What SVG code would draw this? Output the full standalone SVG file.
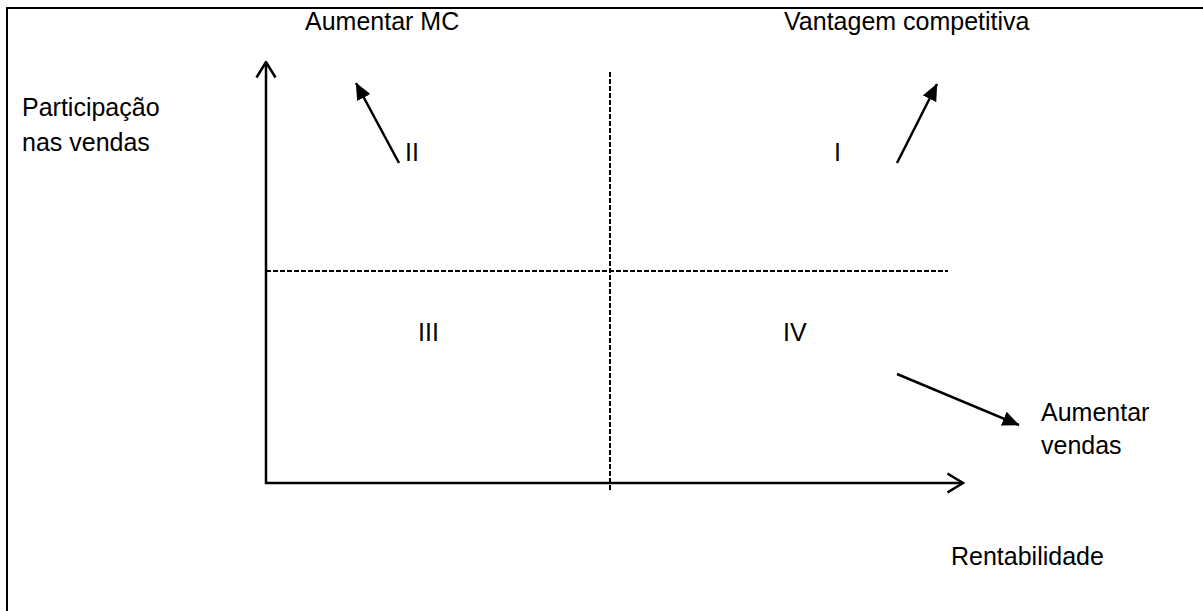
<svg xmlns="http://www.w3.org/2000/svg" width="1203" height="611" viewBox="0 0 1203 611">
<defs>
<style>
text{font-family:"Liberation Sans",Arial,sans-serif;font-size:25px;fill:#000}
.ax{stroke:#000;stroke-width:2.5;fill:none}
.dash{stroke:#000;stroke-width:2;stroke-dasharray:5 2;fill:none}
.arr{stroke:#000;stroke-width:2.5;fill:none}
</style>
<marker id="open" viewBox="0 0 18 22" refX="16.5" refY="11" markerWidth="18" markerHeight="22" markerUnits="userSpaceOnUse" orient="auto">
<path d="M1,1.5 L16.5,11 L1,20.5" fill="none" stroke="#000" stroke-width="2.5"/>
</marker>
<marker id="solid" viewBox="0 0 17 15" refX="16.5" refY="7.5" markerWidth="17" markerHeight="15" markerUnits="userSpaceOnUse" orient="auto">
<path d="M0,0 L17,7.5 L0,15 Z" fill="#000"/>
</marker>
</defs>
<rect width="1203" height="611" fill="#fff"/>
<path d="M7,611 L7,8 L1203,8" fill="none" stroke="#000" stroke-width="2"/>
<g id="connectors">
<line class="ax" x1="266" y1="484" x2="266" y2="62" marker-end="url(#open)"/>
<line class="ax" x1="265" y1="483" x2="963" y2="483" marker-end="url(#open)"/>
<line class="dash" x1="610" y1="72" x2="610" y2="490"/>
<line class="dash" x1="266" y1="271" x2="948" y2="271"/>
<line class="arr" x1="399" y1="163" x2="356" y2="83" marker-end="url(#solid)"/>
<line class="arr" x1="897" y1="163" x2="937" y2="84" marker-end="url(#solid)"/>
<line class="arr" x1="897" y1="374" x2="1019" y2="425" marker-end="url(#solid)"/>
</g>
<g id="label-mc"><text x="305" y="30">Aumentar MC</text></g>
<g id="label-vc"><text x="784" y="30">Vantagem competitiva</text></g>
<g id="y-label"><text x="22" y="116">Participação</text><text x="22" y="151">nas vendas</text></g>
<g id="q2"><text x="405" y="161">II</text></g>
<g id="q1"><text x="834" y="161">I</text></g>
<g id="q3"><text x="418" y="341">III</text></g>
<g id="q4"><text x="783" y="341">IV</text></g>
<g id="label-av"><text x="1041" y="421">Aumentar</text><text x="1041" y="454">vendas</text></g>
<g id="x-label"><text x="951" y="565">Rentabilidade</text></g>
</svg>
